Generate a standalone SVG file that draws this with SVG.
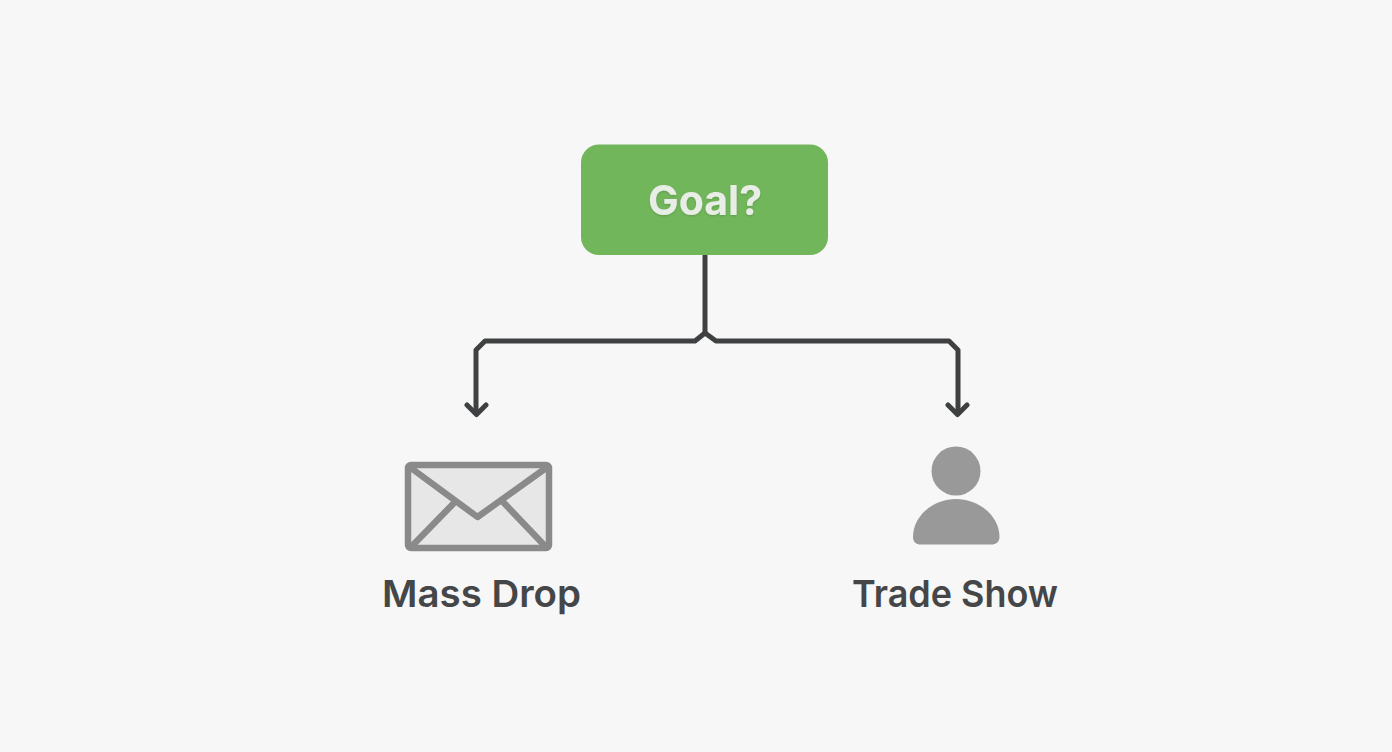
<svg xmlns="http://www.w3.org/2000/svg" width="1392" height="752" viewBox="0 0 1392 752">
<defs>
<filter id="soft" x="-20%" y="-20%" width="140%" height="140%"><feDropShadow dx="0" dy="1" stdDeviation="1.200" flood-color="#4d8a3c" flood-opacity="0.6"/></filter>
</defs>
<style>
.lbl{font-family:Inter,"Liberation Sans",sans-serif;font-size:37.500px;font-weight:600;fill:#454647;text-anchor:middle}
.goal{font-family:Inter,"Liberation Sans",sans-serif;font-size:41px;font-weight:700;fill:#e8eee6;text-anchor:middle}
.conn{fill:none;stroke:#3f4041;stroke-width:5;stroke-linejoin:round;stroke-linecap:round}
.env{fill:none;stroke:#8a8a8a;stroke-width:6.500;stroke-linejoin:round;stroke-linecap:round}
.envbody{fill:#e7e7e7;stroke:#8a8a8a;stroke-width:6.500;stroke-linejoin:round}
</style>
<rect width="1392" height="752" fill="#f7f7f7"/>
<g id="connectors">
<path class="conn" d="M705 256V333"/>
<path class="conn" d="M705 333L695 341H485L476 350V413"/>
<path class="conn" d="M705 333L716 341H949L958 350V413"/>
<path class="conn" d="M467 405L476.500 414.500L486 405M948 405L957.500 414.500L967 405"/>
</g>
<g id="node-goal">
<rect x="581" y="144.500" width="247" height="110.500" rx="18" fill="#72b65c"/>
<text class="goal" x="705" y="215" filter="url(#soft)">Goal?</text>
</g>
<g id="node-mass-drop">
<rect class="envbody" x="408" y="465" width="141" height="83" rx="3"/>
<path class="env" d="M411 468L477.500 517L546 468M454 503L412 546M504 503L545 546"/>
<text class="lbl" x="481.500" y="607" textLength="199" lengthAdjust="spacingAndGlyphs">Mass Drop</text>
</g>
<g id="node-trade-show">
<circle cx="956" cy="471" r="24.500" fill="#999999"/>
<path d="M913 537C913 516 933 499 956 499C979 499 999.500 516 999.500 537C999.500 542 996 544.500 991 544.500H921C916 544.500 913 542 913 537Z" fill="#999999"/>
<text class="lbl" x="955" y="607" textLength="206" lengthAdjust="spacingAndGlyphs">Trade Show</text>
</g>
</svg>
